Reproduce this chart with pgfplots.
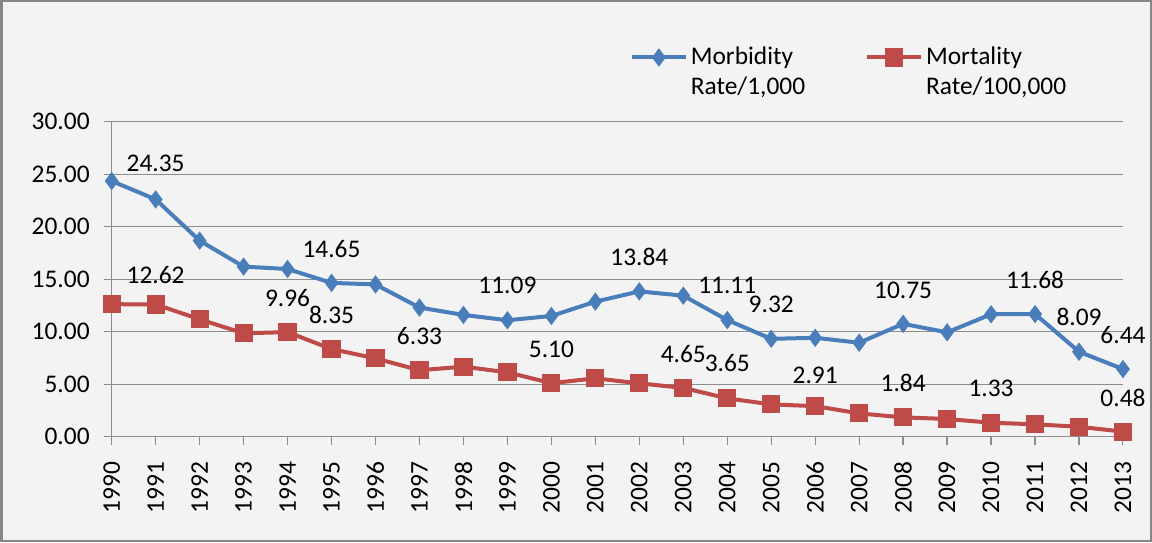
\documentclass[border=0pt]{standalone}
\usepackage{fontspec}
\setmainfont{Carlito}
\usepackage{pgfplots}
\pgfplotsset{compat=1.18}
\definecolor{bgc}{HTML}{F3F3F3}
\definecolor{framec}{HTML}{868686}
\definecolor{gridc}{HTML}{8C8C8C}
\definecolor{blueS}{HTML}{4A7EBB}
\definecolor{redS}{HTML}{BE4B48}
\begin{document}
\begin{tikzpicture}[font=\fontsize{12.7}{15}\selectfont]
\useasboundingbox (0,0) rectangle (576pt,271pt);
\draw[framec, line width=1.25pt, fill=bgc] (0.625pt,0.625pt) rectangle (575.375pt,270.375pt);
\begin{axis}[
  at={(55.85pt,52.65pt)}, anchor=south west,
  scale only axis, width=505.65pt, height=157.5pt,
  xmin=1990, xmax=2013, ymin=0, ymax=30,
  xtick={1990,...,2013}, ytick={0,5,...,30},
  axis lines*=left,
  axis line style={gridc, line width=0.6pt},
  ymajorgrids, grid style={gridc, line width=0.6pt},
  tick style={gridc, line width=0.6pt},
  major tick length=4pt, tick align=outside,
  clip=false,
  /pgf/number format/assume math mode=true,
  xticklabel shift=5pt, yticklabel shift=3.5pt,
  xticklabel style={rotate=90, anchor=east, /pgf/number format/set thousands separator={}},
  x tick label style={/pgf/number format/1000 sep={}},
  yticklabel style={/pgf/number format/fixed, /pgf/number format/fixed zerofill, /pgf/number format/precision=2},
  legend columns=2,
  legend style={at={(0.512,1.2476)}, anchor=north west, draw=none, fill=none, inner sep=0pt,
    nodes={inner sep=1.5pt, align=left},
    /tikz/every even column/.append style={column sep=28.5pt}},
  legend image code/.code={\draw[mark repeat=2,mark phase=2,#1] plot coordinates {(0pt,7.5pt)(13.5pt,7.5pt)(27pt,7.5pt)};},
]
\addplot[blueS, line width=2pt, mark=diamond*, mark size=4.2pt, mark options={solid, fill=blueS, draw=blueS, line width=0.5pt}] coordinates {
(1990,24.35)(1991,22.6)(1992,18.67)(1993,16.2)(1994,15.97)(1995,14.65)(1996,14.5)(1997,12.3)(1998,11.6)(1999,11.09)(2000,11.5)(2001,12.86)(2002,13.84)(2003,13.43)(2004,11.11)(2005,9.32)(2006,9.42)(2007,8.95)(2008,10.75)(2009,9.94)(2010,11.66)(2011,11.68)(2012,8.09)(2013,6.44)};
\addlegendentry{Morbidity\\Rate/1,000}
\addplot[redS, line width=2pt, mark=square*, mark size=4.3pt, mark options={solid, fill=redS, draw=redS, line width=0.5pt}] coordinates {
(1990,12.62)(1991,12.6)(1992,11.18)(1993,9.85)(1994,9.96)(1995,8.35)(1996,7.46)(1997,6.33)(1998,6.67)(1999,6.13)(2000,5.10)(2001,5.56)(2002,5.08)(2003,4.65)(2004,3.65)(2005,3.08)(2006,2.91)(2007,2.22)(2008,1.84)(2009,1.69)(2010,1.33)(2011,1.18)(2012,0.95)(2013,0.48)};
\addlegendentry{Mortality\\Rate/100,000}
\addplot[draw=none, mark=none, forget plot, nodes near coords, point meta=explicit symbolic,
  nodes near coords style={anchor=center, inner sep=0pt, text=black}] table[meta=label] {
x y label
1991 26.04 24.35
1995 17.85 14.65
1999 14.45 11.09
2002 17.08 13.84
2004 14.38 11.11
2005 12.6 9.32
2008 13.97 10.75
2011 14.92 11.68
2012 11.43 8.09
2013 9.68 6.44
1991 15.4 12.62
1994 13.18 9.96
1995 11.59 8.35
1997 9.59 6.33
2000 8.32 5.10
2003 7.84 4.65
2004 6.99 3.65
2006 5.87 2.91
2008 5.08 1.84
2010 4.6 1.33
2013 3.66 0.48
};
\end{axis}
\end{tikzpicture}
\end{document}
